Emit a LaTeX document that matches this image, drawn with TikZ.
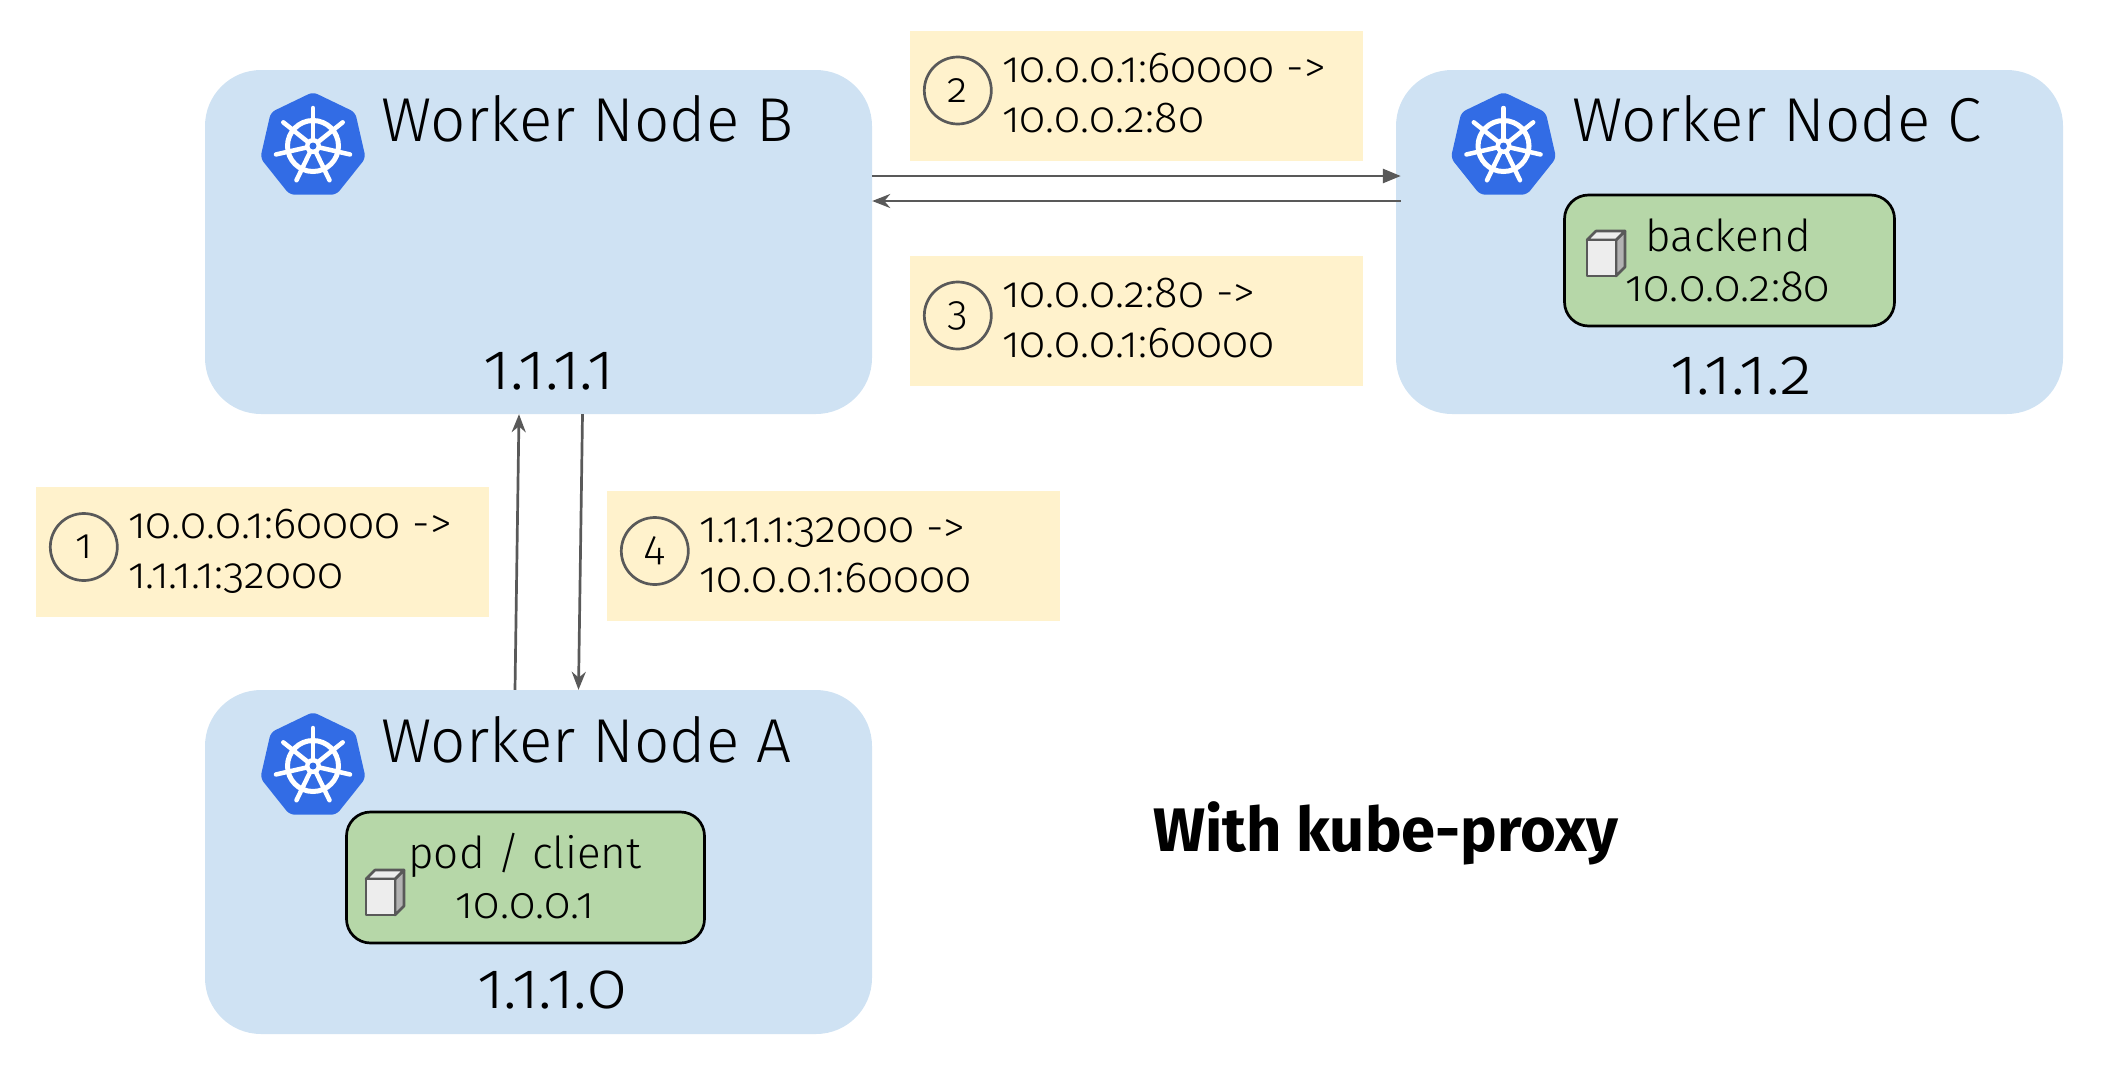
\documentclass[tikz,border=0pt]{standalone}
\usepackage{fontspec}
\setmainfont[Numbers=OldStyle]{Fira Sans Light}
\newfontfamily\boldface[Numbers=OldStyle]{Fira Sans}
\usepackage{tikz}
\usetikzlibrary{arrows.meta}
\usetikzlibrary{shapes.geometric}
\usetikzlibrary{positioning}
\definecolor{nodeblue}{HTML}{CFE2F3}
\definecolor{podgreen}{HTML}{B6D7A8}
\definecolor{noteyellow}{HTML}{FFF2CC}
\definecolor{helmblue}{HTML}{326CE5}
\definecolor{linegray}{HTML}{595959}
\tikzset{worker/.style={rectangle,fill=nodeblue,rounded corners=56pt,inner sep=0pt,
minimum width=667pt,minimum height=344pt},
pod/.style={rectangle,fill=podgreen,draw=black,line width=2.7pt,rounded corners=24pt,
minimum height=131pt,inner sep=0pt},
note/.style={rectangle,fill=noteyellow,inner sep=0pt,minimum width=453pt,minimum height=130pt},
num/.style={circle,draw=linegray,line width=2.7pt,minimum size=67pt,inner sep=0pt,
font=\fontsize{42}{42}\selectfont},
title/.style={anchor=base west,inner sep=0pt,font=\fontsize{62}{62}\selectfont},
addr/.style={anchor=base,inner sep=0pt,font=\fontsize{66}{66}\selectfont},
txt/.style={anchor=base west,inner sep=0pt,font=\fontsize{43.5}{44}\selectfont},
podtxt/.style={anchor=base,inner sep=0pt,font=\fontsize{44}{44}\selectfont},
hept/.style={regular polygon,regular polygon sides=7,fill=helmblue,inner sep=0pt,
minimum size=108pt,rounded corners=5pt},
flow/.style={draw=linegray,line width=2.7pt},
>={Stealth[length=18pt,width=14pt]}}
% kubernetes wheel
\newcommand{\helm}[2]{
\node (#1) [hept] at (#2) {};
\draw [white,line width=5pt] (#1.center) circle (25.5pt);
\foreach \a in {90,141.43,192.86,244.29,295.71,347.14,38.57}
  \draw [white,line width=4.5pt,line cap=round] (#1.center) -- ++(\a:38pt);
\fill [white] (#1.center) circle (8pt);
\fill [helmblue] (#1.center) circle (3.5pt);
}
% container cube, #2 #3 is the corner at the bottom left of the front face
\newcommand{\cube}[3]{
\coordinate (#1) at (#2,#3);
\begin{scope}[shift={(#1)},draw=linegray,line width=2.6pt,line join=round]
  \filldraw [fill=black!30] (29pt,0pt) -- (38pt,9pt) -- (38pt,45pt) -- (29pt,36pt) -- cycle;
  \filldraw [fill=black!7] (0pt,36pt) -- (9pt,45pt) -- (38pt,45pt) -- (29pt,36pt) -- cycle;
  \filldraw [fill=black!7] (0pt,0pt) rectangle (29pt,36pt);
\end{scope}
}
% yellow note with step number and two address lines
\newcommand{\step}[6]{
\node (note#1) [note] at (#2,#3) {};
\node (num#1) [num] at ([xshift=48pt,yshift=5pt]note#1.west) {#4};
\node (from#1) [txt] at ([xshift=92pt,yshift=-52pt]note#1.north west) {#5};
\node (to#1) [txt] at ([xshift=92pt,yshift=-102pt]note#1.north west) {#6};
}

\begin{document}
\begin{tikzpicture}[x=1pt,y=-1pt]
  \useasboundingbox (0,0) rectangle (2112,1082);

  \node (nodeB) [worker] at (538.5,242) {};
  \node (nodeC) [worker] at (1729.5,242) {};
  \node (nodeA) [worker] at (538.5,862) {};

  \helm{helmB}{313,146}
  \helm{helmC}{1503.5,146}
  \helm{helmA}{313,766}

  \node (titleB) [title] at (381,141) {Worker Node B};
  \node (titleC) [title] at (1572,141) {Worker Node C};
  \node (titleA) [title] at (381,762) {Worker Node A};

  \node (ipB) [addr] at (549,389) {1.1.1.1};
  \node (ipC) [addr] at (1741,394) {1.1.1.2};
  \node (ipA) [addr] at (552,1008) {1.1.1.0};

  \node (podC) [pod,minimum width=330pt] at (1729.5,260.5) {};
  \node (podA) [pod,minimum width=358pt] at (525.5,877.5) {};

  \cube{cubeC}{1587}{276}
  \cube{cubeA}{366}{915}

  \node (backend) [podtxt] at (1728,251) {backend};
  \node (ipbackend) [podtxt] at (1728,301) {10.0.0.2:80};
  \node (client) [podtxt] at (525,868) {pod / client};
  \node (ipclient) [podtxt] at (525,918) {10.0.0.1};

  \step{1}{262.5}{552}{1}{10.0.0.1:60000 ->}{1.1.1.1:32000}
  \step{2}{1136.5}{95.5}{2}{10.0.0.1:60000 ->}{10.0.0.2:80}
  \step{3}{1136.5}{320.5}{3}{10.0.0.2:80 ->}{10.0.0.1:60000}
  \step{4}{833.5}{556}{4}{1.1.1.1:32000 ->}{10.0.0.1:60000}

  \draw [flow,-{Triangle[length=18pt,width=14pt]}] ([yshift=66pt]nodeB.east) -- ([xshift=5pt,yshift=66pt]nodeC.west);
  \draw [flow,->] ([xshift=5pt,yshift=41pt]nodeC.west) -- ([yshift=41pt]nodeB.east);
  \draw [flow,->] ([xshift=-23.5pt]nodeA.north) -- ([xshift=-19.5pt]nodeB.south);
  \draw [flow,->] ([xshift=44pt]nodeB.south) -- ([xshift=40pt]nodeA.north);

  \node (caption) [anchor=base west,inner sep=0pt,font=\boldface\bfseries\fontsize{61.5}{62}\selectfont] at (1153,851) {With kube-proxy};
\end{tikzpicture}
\end{document}
